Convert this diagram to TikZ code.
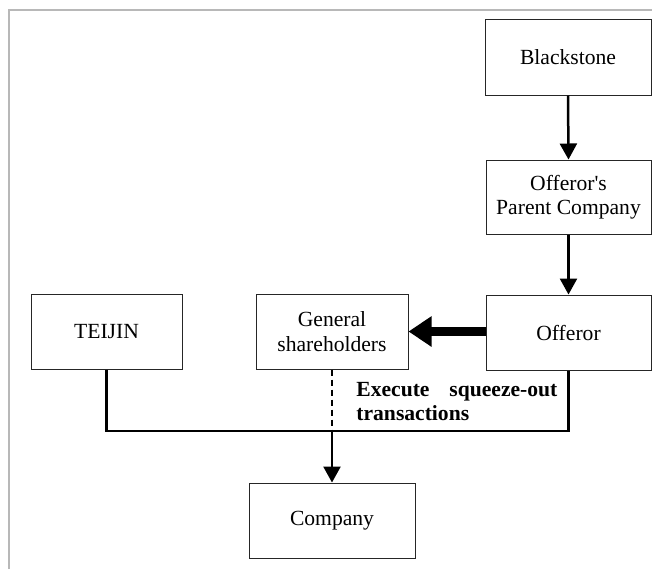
\documentclass[tikz,border=0pt]{standalone}
\usepackage{fontspec}
\setmainfont{Liberation Serif}
\usetikzlibrary{arrows.meta}
\begin{document}
\begin{tikzpicture}[x=0.5pt,y=-0.5pt,
  box/.style={draw=black!85,line width=0.5pt,inner sep=0pt,align=center,
    font=\fontsize{10.8}{12.2}\selectfont},
  conn/.style={line width=1.25pt,line join=miter},
  tip/.style={-{Triangle[length=8pt,width=8.5pt]}},
  frame/.style={draw=black!28,line width=1pt}]
\useasboundingbox (0,0) rectangle (652,569);
\draw[frame] (9,569) -- (9,10) -- (652,10);
\node[box,minimum width=83pt,minimum height=38pt] (bs) at (568,57) {Blackstone};
\node[box,minimum width=82.5pt,minimum height=37pt] (pc) at (568.5,197) {Offeror\textquotesingle s\\Parent Company};
\node[box,minimum width=82.5pt,minimum height=37.5pt] (of) at (568.5,332.5) {Offeror};
\node[box,minimum width=76pt,minimum height=37.5pt] (gs) at (332,331.5) {General\\shareholders};
\node[box,minimum width=75.5pt,minimum height=37.5pt] (tj) at (106.5,331.5) {TEIJIN};
\node[box,minimum width=83pt,minimum height=37.5pt] (co) at (332,520.5) {Company};
\node[anchor=north west,inner sep=0pt,text width=100.5pt,align=left,
  font=\fontsize{10.8}{12.2}\selectfont\bfseries] (tx) at (356,382)
  {Execute\hfill squeeze-out\\transactions};
\coordinate (j) at (332,431);
\draw[conn,tip] (bs.south) -- (pc.north);
\draw[conn,tip] (pc.south) -- (of.north);
\draw[line width=4.3pt,-{Triangle[length=11.5pt,width=14.5pt]}] (of.west|-gs.east) -- (gs.east);
\draw[conn] (tj.south) |- (j) -| (of.south);
\draw[conn,dashed,dash pattern=on 3pt off 2pt] (gs.south) -- (j);
\draw[conn,tip] (j) -- (co.north);
\end{tikzpicture}
\end{document}
